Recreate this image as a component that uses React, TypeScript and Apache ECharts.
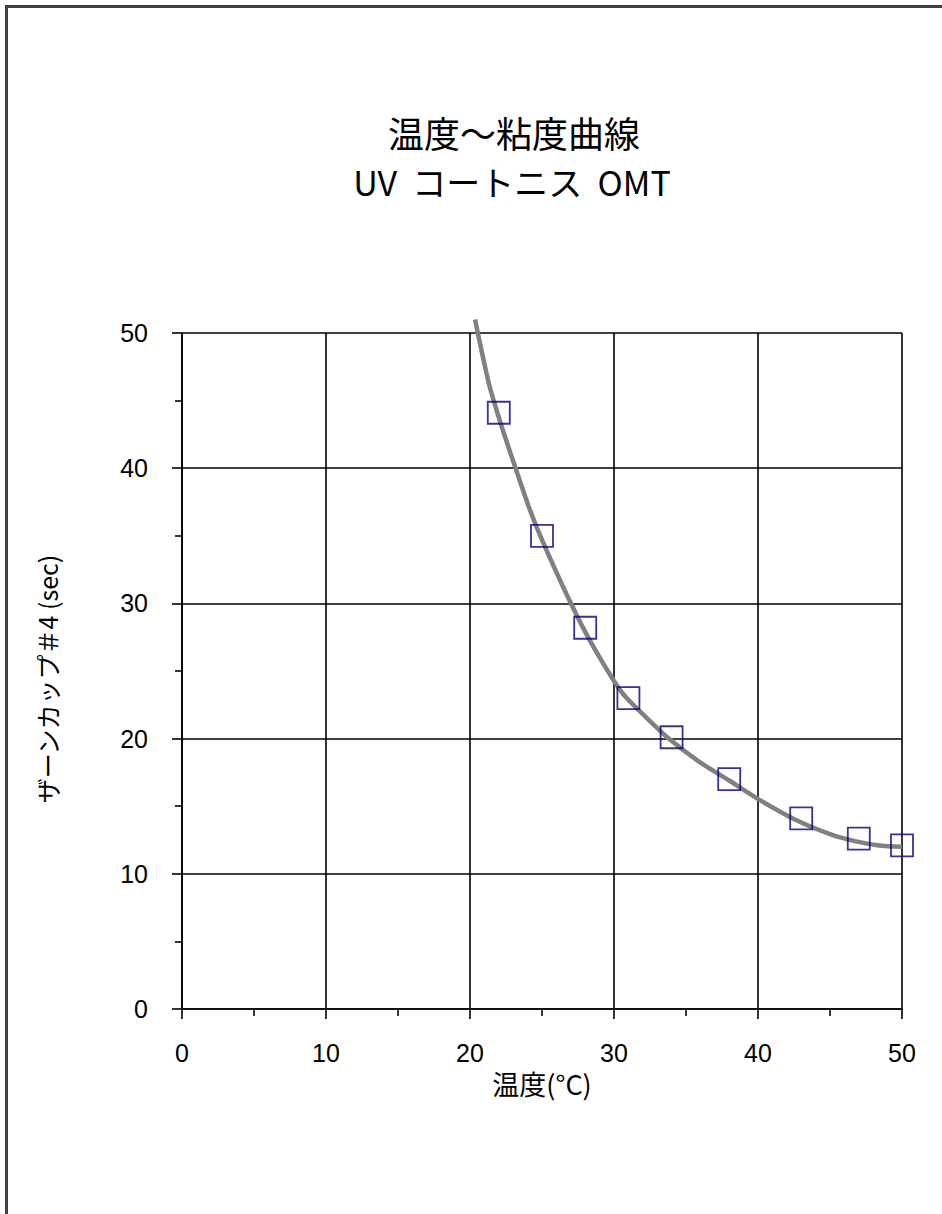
import React, { useEffect, useRef } from "react";
import * as echarts from "echarts";

const titleLines = ["温度～粘度曲線", "UV  コートニス  OMT"];
const xAxisName = "温度(°C)";
const yAxisName = "ザーンカップ＃4 (sec)";

// measured data points (temperature °C, viscosity sec)
const tempPoints = [22, 25, 28, 31, 34, 38, 43, 47, 50];
const viscPoints = [44.1, 35.0, 28.2, 23.0, 20.1, 17.0, 14.1, 12.6, 12.1];

// trend curve
const curveX = [20.35, 21.3, 21.9, 22.5, 23.1, 24.1, 24.8, 26.3, 27.8, 29.0, 30.1, 30.8, 32.2, 33.8, 35.9, 38.0, 39.9, 42.6, 45.1, 46.8, 48.4, 50.0];
const curveY = [51.0, 46.3, 44.1, 42.1, 40.2, 37.1, 35.2, 31.6, 28.3, 26.0, 24.1, 23.1, 21.6, 20.0, 18.3, 16.9, 15.6, 14.0, 12.9, 12.4, 12.1, 12.0];

const CJK = "'Noto Sans CJK JP', 'Liberation Sans', sans-serif";
const LATIN = "'Liberation Sans', Arial, sans-serif";

export default function App() {
  const ref = useRef<HTMLDivElement>(null);
  useEffect(() => {
    if (!ref.current) return;
    const chart = echarts.init(ref.current, null, { renderer: "svg" });
    const axisCommon = {
      min: 0,
      max: 50,
      interval: 10,
      axisLine: { show: true, onZero: false, lineStyle: { color: "#000", width: 1.6 } },
      axisTick: { show: true, length: 10, lineStyle: { color: "#000", width: 1.6 } },
      minorTick: { show: true, splitNumber: 2, length: 7, lineStyle: { color: "#000", width: 1.6 } },
      splitLine: { show: true, lineStyle: { color: "#000", width: 1.6 } },
      axisLabel: { color: "#000", fontSize: 25, fontFamily: LATIN },
      nameLocation: "middle" as const,
      nameTextStyle: { color: "#000", fontFamily: CJK },
    };
    chart.setOption({
      animation: false,
      backgroundColor: "#fff",
      grid: { left: 182, top: 333, right: 40, bottom: 205, containLabel: false },
      xAxis: {
        ...axisCommon,
        type: "value",
        name: xAxisName,
        nameGap: 52,
        nameTextStyle: { ...axisCommon.nameTextStyle, fontSize: 27 },
        axisLabel: { ...axisCommon.axisLabel, margin: 31 },
      },
      yAxis: {
        ...axisCommon,
        type: "value",
        axisLabel: { ...axisCommon.axisLabel, margin: 34 },
      },
      graphic: [
        {
          type: "rect",
          shape: { x: 6.5, y: 6.5, width: 1000, height: 1300 },
          style: { fill: "none", stroke: "#404040", lineWidth: 3 },
          silent: true,
        },
        {
          type: "text",
          x: 514,
          y: 132,
          style: { text: titleLines[0], font: `36px ${CJK}`, fill: "#000", align: "center", verticalAlign: "middle" },
        },
        {
          type: "text",
          x: 512,
          y: 181,
          style: { text: titleLines[1], font: `34px ${CJK}`, fill: "#000", align: "center", verticalAlign: "middle" },
        },
        {
          type: "text",
          x: 47,
          y: 679,
          rotation: Math.PI / 2,
          style: { text: yAxisName, font: `25px ${CJK}`, fill: "#000", align: "center", verticalAlign: "middle" },
        },
      ],
      series: [
        {
          type: "line",
          data: curveX.map((x, i) => [x, curveY[i]]),
          smooth: 0.25,
          showSymbol: false,
          symbol: "none",
          clip: false,
          lineStyle: { color: "#808080", width: 4.5 },
          z: 2,
        },
        {
          type: "scatter",
          data: tempPoints.map((x, i) => [x, viscPoints[i]]),
          symbol: "rect",
          symbolSize: 22,
          clip: false,
          itemStyle: { color: "rgba(0,0,0,0)", borderColor: "#000080", borderWidth: 1.8 },
          z: 3,
        },
      ],
    });
    return () => chart.dispose();
  }, []);
  return <div ref={ref} style={{ position: "absolute", left: 0, top: 0, width: 942, height: 1214 }} />;
}
